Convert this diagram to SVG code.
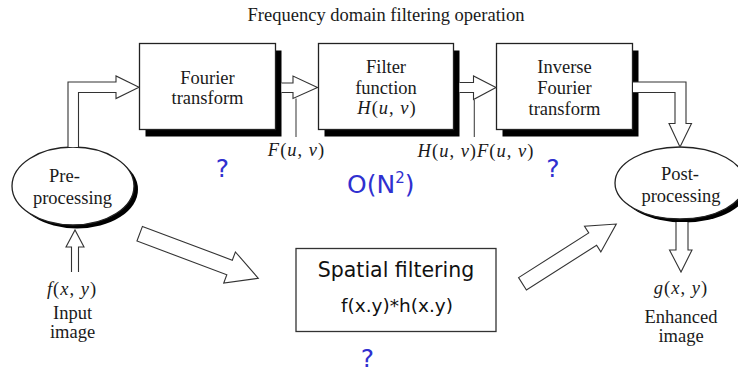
<svg xmlns="http://www.w3.org/2000/svg" width="738" height="373" viewBox="0 0 738 373">
  <style>
    .serif { font-family: "Liberation Serif", "Times New Roman", serif; font-size: 18.5px; fill: #1a1a1a; }
    .math { font-family: "Liberation Serif", "Times New Roman", serif; font-size: 18.5px; fill: #1a1a1a; letter-spacing: 1px; }
    .it { font-style: italic; }
    .sans { font-family: "DejaVu Sans", Verdana, sans-serif; fill: #111; }
    .blue { font-family: "DejaVu Sans", Verdana, sans-serif; font-size: 25px; fill: #3030d0; }
    .box { fill: #fff; stroke: #222; stroke-width: 1.3; }
    .shadow { fill: #000; }
    .arrow { fill: #fff; stroke: #333; stroke-width: 1.1; stroke-linejoin: miter; }
    .tick { stroke: #444; stroke-width: 1.1; fill: none; }
  </style>

  <!-- title -->
  <text class="serif" x="386" y="21" text-anchor="middle">Frequency domain filtering operation</text>

  <!-- pre-processing node -->
  <g id="pre">
    <ellipse class="shadow" cx="77" cy="189.5" rx="61" ry="39"/>
    <ellipse class="box" cx="73" cy="186" rx="61" ry="39"/>
    <text class="serif" x="49" y="182">Pre-</text>
    <text class="serif" x="72.5" y="204" text-anchor="middle">processing</text>
  </g>

  <!-- Fourier transform node -->
  <g id="fourier">
    <rect class="shadow" x="145.5" y="50.5" width="136" height="86"/>
    <rect class="box" x="139.5" y="43.5" width="136" height="86"/>
    <text class="serif" x="207.5" y="84" text-anchor="middle">Fourier</text>
    <text class="serif" x="207.5" y="104" text-anchor="middle">transform</text>
  </g>

  <!-- filter function node -->
  <g id="filter">
    <rect class="shadow" x="324.5" y="50.5" width="135" height="86"/>
    <rect class="box" x="318.5" y="43.5" width="135" height="86"/>
    <text class="serif" x="386" y="73" text-anchor="middle">Filter</text>
    <text class="serif" x="386" y="94" text-anchor="middle">function</text>
    <text class="math" x="387" y="114" text-anchor="middle"><tspan class="it">H</tspan>(<tspan class="it">u</tspan>, <tspan class="it">v</tspan>)</text>
  </g>

  <!-- inverse Fourier transform node -->
  <g id="inverse">
    <rect class="shadow" x="502.5" y="50.5" width="136" height="86"/>
    <rect class="box" x="496.5" y="43.5" width="136" height="86"/>
    <text class="serif" x="564.5" y="73" text-anchor="middle">Inverse</text>
    <text class="serif" x="564.5" y="94" text-anchor="middle">Fourier</text>
    <text class="serif" x="564.5" y="115" text-anchor="middle">transform</text>
  </g>

  <!-- post-processing node -->
  <g id="post">
    <ellipse class="shadow" cx="684" cy="186.5" rx="65" ry="36"/>
    <ellipse class="box" cx="680" cy="183" rx="65" ry="36"/>
    <text class="serif" x="680" y="180" text-anchor="middle">Post-</text>
    <text class="serif" x="681" y="202" text-anchor="middle">processing</text>
  </g>

  <!-- spatial filtering node -->
  <g id="spatial">
    <rect x="296" y="248.5" width="200" height="83" fill="#fff" stroke="#333" stroke-width="1.3"/>
    <text class="sans" x="396" y="277" font-size="20.5" text-anchor="middle">Spatial filtering</text>
    <text class="sans" x="397" y="312" font-size="18.5" text-anchor="middle">f(x.y)*h(x.y)</text>
  </g>

  <!-- input / output labels -->
  <g id="input">
    <text class="math" x="72" y="295" text-anchor="middle"><tspan class="it">f</tspan>(<tspan class="it">x</tspan>, <tspan class="it">y</tspan>)</text>
    <text class="serif" x="72.5" y="319" text-anchor="middle">Input</text>
    <text class="serif" x="72.5" y="338" text-anchor="middle">image</text>
  </g>
  <g id="output">
    <text class="math" x="681" y="294" text-anchor="middle"><tspan class="it">g</tspan>(<tspan class="it">x</tspan>, <tspan class="it">y</tspan>)</text>
    <text class="serif" x="681" y="323" text-anchor="middle">Enhanced</text>
    <text class="serif" x="681" y="342" text-anchor="middle">image</text>
  </g>

  <!-- connectors: block arrows -->
  <g id="connectors">
    <!-- pre-processing to Fourier transform -->
    <path class="arrow" d="M68,147 V82 H116 V76 L139,87.3 L116,98.5 V92.5 H78.5 V147"/>
    <!-- Fourier transform to filter -->
    <path class="arrow" d="M281.5,83 H293 V76 L317.5,87.5 L293,98.5 V92.5 H281.5"/>
    <!-- filter to inverse transform -->
    <path class="arrow" d="M459.5,82.5 H473.5 V76 L496,87.5 L473.5,99.5 V92.5 H459.5"/>
    <!-- inverse transform to post-processing -->
    <path class="arrow" d="M633,82 H686 V123.5 H691.5 L680,147 L669,123.5 H675 V92.5 H633"/>
    <!-- image in / image out -->
    <path class="arrow" d="M71.5,272 V247 H66 L75,230 L84,247 H78.5 V272"/>
    <path class="arrow" d="M676,222 V250 H669.5 L681,272 L692,250 H688 V222"/>
    <!-- spatial route -->
    <polygon class="arrow" transform="translate(139.7,233.7) rotate(20.6)" points="0,-7.8 96,-7.8 96,-16.6 126.7,0 96,16.6 96,7.8 0,7.8"/>
    <polygon class="arrow" transform="translate(522.5,283.8) rotate(-32.5)" points="0,-7.3 83.2,-7.3 83.2,-15.2 111.2,0 83.2,15.2 83.2,7.3 0,7.3"/>
    <!-- label leaders -->
    <line class="tick" x1="296" y1="98.5" x2="296" y2="137"/>
    <line class="tick" x1="474.3" y1="100" x2="474.3" y2="137"/>
  </g>

  <!-- signal labels -->
  <g id="labels">
    <text class="math" x="296.5" y="156" text-anchor="middle"><tspan class="it">F</tspan>(<tspan class="it">u</tspan>, <tspan class="it">v</tspan>)</text>
    <text class="math" x="476" y="157" text-anchor="middle"><tspan class="it">H</tspan>(<tspan class="it">u</tspan>, <tspan class="it">v</tspan>)<tspan class="it">F</tspan>(<tspan class="it">u</tspan>, <tspan class="it">v</tspan>)</text>
  </g>

  <!-- complexity notes -->
  <g id="notes">
    <text class="blue" x="222.5" y="177" text-anchor="middle">?</text>
    <text class="blue" x="347" y="193">O(N<tspan font-size="15" dy="-10">2</tspan><tspan dy="10">)</tspan></text>
    <text class="blue" x="553" y="177" text-anchor="middle">?</text>
    <text class="blue" x="367.5" y="367" text-anchor="middle">?</text>
  </g>
</svg>
